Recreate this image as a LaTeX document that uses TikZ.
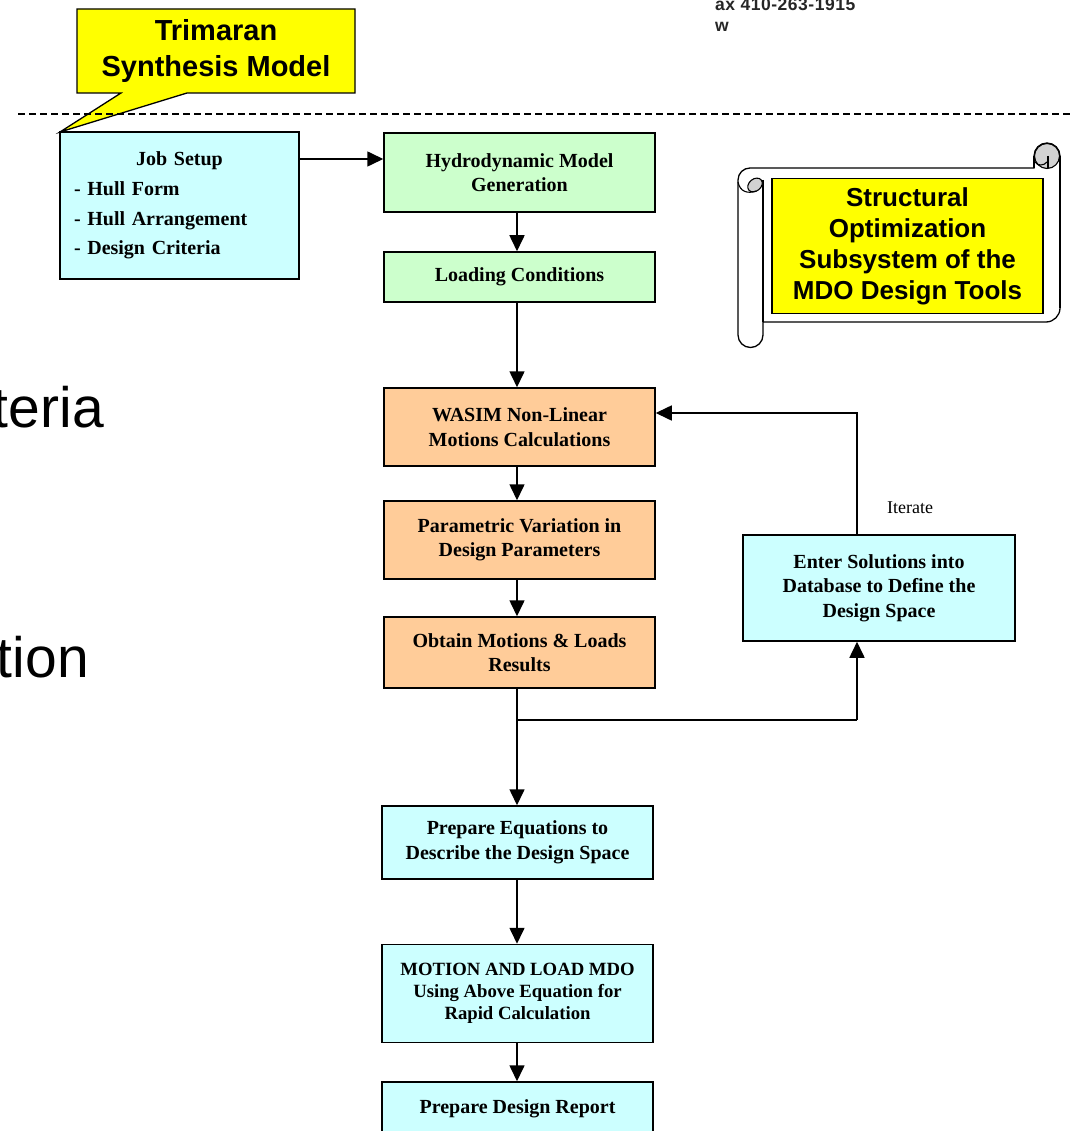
\documentclass[tikz,border=0pt]{standalone}
\usepackage{fontspec}
\setmainfont{Liberation Serif}
\newfontfamily\arialf{Liberation Sans}
\newfontfamily\arialsp[LetterSpace=3]{Liberation Sans}
\usetikzlibrary{arrows.meta}
\definecolor{boxcyan}{HTML}{CCFFFF}
\definecolor{boxgreen}{HTML}{CCFFCC}
\definecolor{boxorange}{HTML}{FFCC99}
\definecolor{callyellow}{HTML}{FFFF00}
\begin{document}
\begin{tikzpicture}[x=1pt,y=-1pt,
  box/.style={draw=black, line width=1.5pt, inner sep=0pt, align=center,
    font=\fontsize{20}{24.5}\selectfont\bfseries},
  cyanbox/.style={box, fill=boxcyan},
  greenbox/.style={box, fill=boxgreen},
  orangebox/.style={box, fill=boxorange},
  arr/.style={line width=1.6pt, -{Triangle[length=16pt,width=15pt]}},
  conn/.style={line width=1.6pt},
  outline/.style={draw=black, line width=1.3pt}]
\useasboundingbox (0,0) rectangle (1070,1131);
\fill[white] (0,0) rectangle (1070,1131);

% header text
\node[anchor=base west, inner sep=0pt, font=\arialsp\bfseries\fontsize{17.5}{20}\selectfont, text=black!85] (fax) at (715,11) {ax 410-263-1915};
\node[anchor=base west, inner sep=0pt, font=\arialsp\bfseries\fontsize{17.5}{20}\selectfont, text=black!85] (www) at (715,31.5) {w};

% left cut-off large text
\node[anchor=base east, inner sep=0pt, font=\arialf\fontsize{57}{60}\selectfont] (teria) at (104,427) {teria};
\node[anchor=base east, inner sep=0pt, font=\arialf\fontsize{57}{60}\selectfont] (tion) at (89,677) {tion};

% callout
\path[outline, fill=callyellow] (77,9) -- (355,9) -- (355,93) -- (187,93) -- (60,132) -- (121,93) -- (77,93) -- cycle;
\node[align=center, inner sep=0pt, font=\arialf\bfseries\fontsize{29}{36}\selectfont] (trimaran) at (216,51) {Trimaran\\Synthesis Model};

% dashed separator
\coordinate (dl) at (18,114);
\coordinate (dr) at (1070,114);
\draw[line width=1.2pt, dash pattern=on 7pt off 4pt] (dl) -- (dr);

% scroll
\path[outline, fill=white] (738,180) arc[start angle=180,end angle=270,radius=12] -- (1034,168) -- (1034,156)
  arc[start angle=180,end angle=360,radius=13] -- (1060,308) arc[start angle=0,end angle=90,radius=14]
  -- (763,322) -- (763,335) arc[start angle=0,end angle=180,radius=12.5] -- cycle;
\draw[line width=1.3pt] (763,180) -- (763,322);
% top-left curl
\draw[line width=1.1pt, fill=gray!35, rotate around={40:(755,185)}] (755,185) ellipse[x radius=8, y radius=6];
\draw[line width=1.1pt] (738,182) .. controls (740,192) and (748,194) .. (756,191);
% top-right curl
\draw[line width=1.1pt, fill=gray!35] (1047,156) circle[radius=12.5];
\draw[line width=1.1pt] (1035,162) .. controls (1037,166) and (1044,166) .. (1047,162);
\draw[line width=1.1pt] (1048,156) -- (1048,168);
\draw[line width=1.1pt] (1034,156) -- (1034,168);
\draw[line width=1.3pt] (1060,156) -- (1060,308);
\node[draw=black, line width=1.5pt, fill=callyellow, minimum width=271, minimum height=135, inner sep=0pt, align=center,
  font=\arialf\bfseries\fontsize{26}{31}\selectfont] (struct) at (907.5,246) {Structural\\Optimization\\Subsystem of the\\MDO Design Tools};

% process boxes
\node[cyanbox, minimum width=239, minimum height=147, text width=211pt, align=left,
  font=\fontsize{20}{29.6}\selectfont\bfseries] (job) at (179.5,205.5)
  {\makebox[211pt]{Job Setup}\\- Hull Form\\- Hull Arrangement\\- Design Criteria};
\node[greenbox, minimum width=271, minimum height=79] (hydro) at (519.5,172.5) {Hydrodynamic Model\\Generation};
\node[greenbox, minimum width=271, minimum height=50] (load) at (519.5,277) {Loading Conditions};
\node[orangebox, minimum width=271, minimum height=78] (wasim) at (519.5,427) {WASIM Non-Linear\\Motions Calculations};
\node[orangebox, minimum width=271, minimum height=78] (param) at (519.5,540) {Parametric Variation in\\Design Parameters};
\node[orangebox, minimum width=271, minimum height=71] (obtain) at (519.5,652.5) {Obtain Motions \& Loads\\Results};
\node[cyanbox, minimum width=271, minimum height=73] (prepeq) at (517.5,842.5) {Prepare Equations to\\Describe the Design Space};
\node[cyanbox, minimum width=271, minimum height=98, font=\fontsize{18.7}{22}\selectfont\bfseries] (motion) at (517.5,993.5) {MOTION AND LOAD MDO\\Using Above Equation for\\Rapid Calculation};
\node[cyanbox, minimum width=271, minimum height=54] (report) at (517.5,1109) {Prepare Design Report};
\node[cyanbox, minimum width=272, minimum height=106] (enter) at (879,588) {Enter Solutions into\\Database to Define the\\Design Space};
\node[font=\fontsize{18}{20}\selectfont, inner sep=0pt] (iterate) at (910,508) {Iterate};

% connectors
\coordinate (ax) at (517,0);
\coordinate (ix) at (857,0);
\coordinate (ay) at (0,159);
\coordinate (ly) at (0,413);
\coordinate (br) at (517,720);
\draw[arr] (job.east |- ay) -- (hydro.west |- ay);
\draw[arr] (hydro.south -| ax) -- (load.north -| ax);
\draw[arr] (load.south -| ax) -- (wasim.north -| ax);
\draw[arr] (wasim.south -| ax) -- (param.north -| ax);
\draw[arr] (param.south -| ax) -- (obtain.north -| ax);
\draw[arr] (obtain.south -| ax) -- (prepeq.north -| ax);
\draw[conn] (br) -- (br -| ix);
\draw[arr] (br -| ix) -- (enter.south -| ix);
\draw[arr] (enter.north -| ix) -- (ix |- ly) -- (wasim.east |- ly);
\draw[arr] (prepeq.south -| ax) -- (motion.north -| ax);
\draw[arr] (motion.south -| ax) -- (report.north -| ax);
\end{tikzpicture}
\end{document}
